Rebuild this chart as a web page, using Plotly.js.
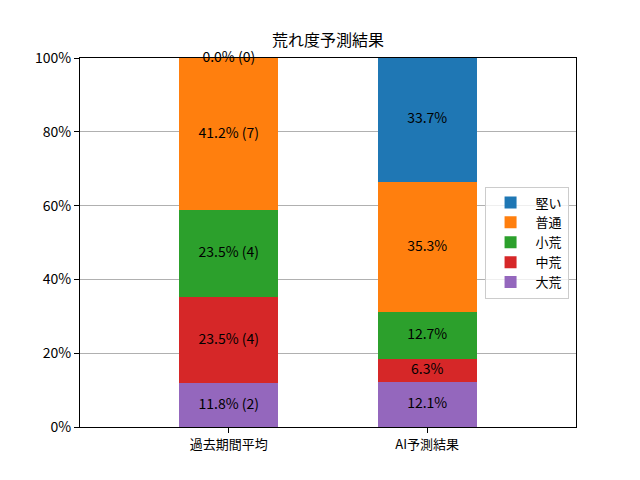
<!DOCTYPE html>
<html>
<head>
<meta charset="utf-8">
<script src="https://cdn.plot.ly/plotly-3.0.1.min.js"></script>
<style>
  body { margin: 0; }
  #chart { width: 640px; height: 480px; }
</style>
</head>
<body>
<div id="chart"></div>
<script>
var categories = ['過去期間平均', 'AI予測結果'];
var levels = ['大荒', '中荒', '小荒', '普通', '堅い'];
var colors = ['#9467bd', '#d62728', '#2ca02c', '#ff7f0e', '#1f77b4'];

// percent per level, bottom to top
var pastPct = [11.8, 23.5, 23.5, 41.2, 0.0];
var pastCount = [2, 4, 4, 7, 0];
var aiPct = [12.1, 6.3, 12.7, 35.3, 33.7];

var font = 'Noto Sans CJK JP, DejaVu Sans, sans-serif';

var traces = [];
levels.forEach(function(level, i) {
  traces.push({
    name: level,
    type: 'bar',
    x: categories,
    y: [pastPct[i], aiPct[i]],
    width: 0.5,
    marker: { color: colors[i] },
    hoverinfo: 'name+y',
  });
});

// labels at the middle of each segment
var labelX = [], labelY = [], labelText = [];
var basePast = 0, baseAi = 0;
levels.forEach(function(level, i) {
  labelX.push(categories[0]);
  labelY.push(basePast + pastPct[i] / 2);
  labelText.push(pastPct[i].toFixed(1) + '% (' + pastCount[i] + ')');
  basePast += pastPct[i];

  labelX.push(categories[1]);
  labelY.push(baseAi + aiPct[i] / 2);
  labelText.push(aiPct[i].toFixed(1) + '%');
  baseAi += aiPct[i];
});

traces.push({
  type: 'scatter',
  mode: 'text',
  x: labelX,
  y: labelY,
  text: labelText,
  textfont: { family: font, size: 14, color: '#000' },
  showlegend: false,
  hoverinfo: 'skip',
  cliponaxis: false,
});

var layout = {
  width: 640,
  height: 480,
  barmode: 'stack',
  paper_bgcolor: '#fff',
  plot_bgcolor: '#fff',
  font: { family: font, size: 14, color: '#000' },
  title: {
    text: '荒れ度予測結果',
    font: { family: font, size: 16, color: '#000' },
    x: 0.5,
    xref: 'paper',
    y: 0.905,
    yanchor: 'bottom',
  },
  margin: { l: 80, r: 64, t: 58, b: 53, pad: 0 },
  xaxis: {
    type: 'category',
    range: [-0.75, 1.75],
    showline: true,
    linecolor: '#000',
    linewidth: 1,
    mirror: true,
    ticks: 'outside',
    ticklen: 5,
    tickcolor: '#000',
    showgrid: false,
    tickfont: { family: font, size: 13 },
  },
  yaxis: {
    range: [0, 100],
    autorange: false,
    tickvals: [0, 20, 40, 60, 80, 100],
    ticktext: ['0%', '20%', '40%', '60%', '80%', '100%'],
    showline: true,
    linecolor: '#000',
    linewidth: 1,
    mirror: true,
    ticks: 'outside',
    ticklen: 5,
    tickcolor: '#000',
    showgrid: true,
    gridcolor: '#b0b0b0',
    gridwidth: 1,
    zeroline: false,
    tickfont: { family: font, size: 14 },
  },
  legend: {
    x: 0.985,
    xanchor: 'right',
    y: 0.5,
    yanchor: 'middle',
    traceorder: 'reversed',
    itemwidth: 40,
    bgcolor: 'rgba(255,255,255,0.8)',
    bordercolor: '#cccccc',
    borderwidth: 1,
    font: { family: font, size: 13 },
  },
  showlegend: true,
};

Plotly.newPlot('chart', traces, layout, { displayModeBar: false, staticPlot: true });
</script>
</body>
</html>
